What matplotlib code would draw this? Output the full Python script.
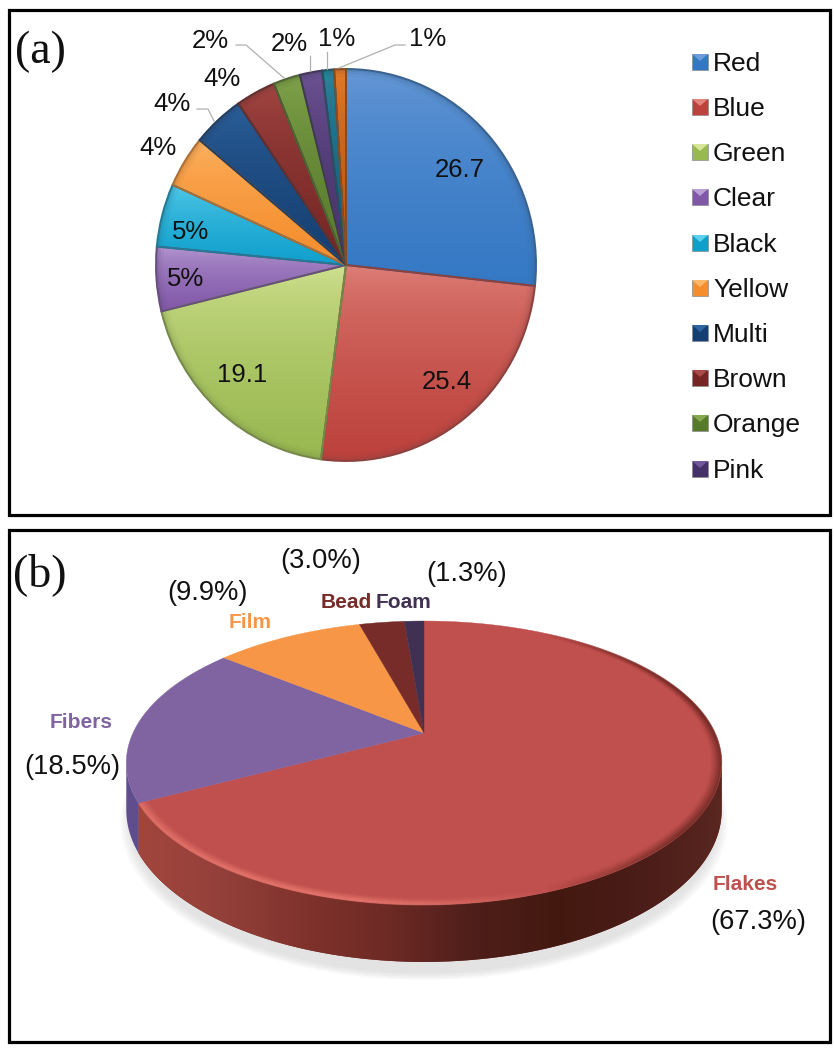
import numpy as np
import matplotlib
matplotlib.use("Agg")
import matplotlib.pyplot as plt
from matplotlib.collections import LineCollection
from matplotlib.colors import LinearSegmentedColormap, to_rgb
from matplotlib.patches import PathPatch, Polygon, Rectangle, Wedge

W, H = 834, 1050

# panel (a)
color_values = [26.7, 25.4, 19.1, 5.3, 5.2, 4.3, 4.4, 3.4, 2.3, 1.9, 1.0, 1.0]
color_names = ["Red", "Blue", "Green", "Clear", "Black", "Yellow", "Multi", "Brown", "Orange", "Pink"]
color_tops = ["#6b9bd8", "#e0847c", "#d6e596", "#bba0d6", "#5fd0ee", "#fdb769",
              "#2f649f", "#a84a47", "#86a84f", "#72589a", "#2d8aa5", "#e87f2c"]
color_bottoms = ["#3478c4", "#bd413c", "#98b850", "#8158a8", "#10a0cc", "#f58d2c",
                 "#153f72", "#752624", "#567a2c", "#453168", "#155c74", "#b85410"]
color_labels = ["26.7", "25.4", "19.1", "5%", "5%", "4%", "4%", "4%", "2%", "2%", "1%", "1%"]
color_label_xy = [(460, 170), (447, 382), (242, 375), (186, 279), (191, 232), (158, 148),
                  (172, 104), (222, 79), (210, 41), (289, 44), (337, 39), (428, 39)]
leader_lines = [
    [(197, 109), (208, 109), (214, 121)],
    [(236, 45), (246, 45), (284, 78)],
    [(310, 56), (310, 71)],
    [(327, 52), (327, 69)],
    [(405, 45), (395, 45), (339, 68)],
]
legend_y = [62, 107, 152, 197, 243, 288, 333, 378, 423, 469]

# panel (b)
shape_values = [67.3, 18.5, 9.9, 3.0, 1.3]
shape_names = ["Flakes", "Fibers", "Film", "Bead", "Foam"]
shape_colors = ["#c0504d", "#8064a2", "#f79646", "#772c2a", "#403152"]
shape_name_xy = [(745, 885), (81, 722), (250, 623), (346, 602), (404, 602)]
shape_pcts = ["(67.3%)", "(18.5%)", "(9.9%)", "(3.0%)", "(1.3%)"]
shape_pct_xy = [(758, 922), (72, 767), (208, 593), (321, 561), (467, 574)]

SANS = "Liberation Sans"
SERIF = "Liberation Serif"

# perspective disc of panel (b), in pixels
CX, CY = 424, 733
BX, AY, K, DEPTH = 291, 135.6, 0.211, 45


def disc_xy(theta_deg, scale=1.0, drop=0.0):
    t = np.radians(theta_deg)
    u, v = scale * np.cos(t), scale * np.sin(t)
    w = 1 + K * v
    return CX + BX * u / w, CY - AY * v / w + drop * DEPTH / w


def gradient_cmap(top, bottom):
    return LinearSegmentedColormap.from_list("g", [to_rgb(top), to_rgb(bottom)])


fig = plt.figure(figsize=(W / 100, H / 100), dpi=100)
canvas = fig.add_axes([0, 0, 1, 1])
canvas.set_xlim(0, W)
canvas.set_ylim(H, 0)
canvas.axis("off")

# frames
canvas.add_patch(Rectangle((9, 10), 821, 505, fc="none", ec="black", lw=2.3))
canvas.add_patch(Rectangle((9, 530), 821, 512, fc="none", ec="black", lw=2.3))

# (a) pie, slightly taller than wide like the picture
pie_cx, pie_cy, pie_rx, pie_ry = 346, 265, 190, 196
pie_ax = fig.add_axes([(pie_cx - pie_rx - 3) / W, 1 - (pie_cy + pie_ry + 3) / H,
                       (2 * pie_rx + 6) / W, (2 * pie_ry + 6) / H])
wedges, _ = pie_ax.pie(color_values, startangle=90, counterclock=False, colors=color_bottoms, radius=1.0)
pie_ax.set_aspect("auto")
grad = np.linspace(0, 1, 200).reshape(-1, 1)
for w, top, bottom in zip(wedges, color_tops, color_bottoms):
    verts = w.get_patch_transform().transform(w.get_path().vertices)
    x0, x1 = verts[:, 0].min(), verts[:, 0].max()
    y0, y1 = verts[:, 1].min(), verts[:, 1].max()
    # the colour settles quickly, the light part is only at the top of the slice
    im = pie_ax.imshow(grad ** 0.55, extent=(x0, x1, y0, y1), origin="upper", aspect="auto",
                       cmap=gradient_cmap(top, bottom), zorder=2)
    im.set_clip_path(w)
    edge = np.array(to_rgb(bottom)) * 0.6 + 0.1
    # darker band along the rim of each slice
    for width, alpha in [(0.012, 0.22), (0.024, 0.14), (0.04, 0.08)]:
        ring = Wedge(w.center, w.r, w.theta1, w.theta2, width=width, fc=edge, ec="none", alpha=alpha, zorder=3)
        pie_ax.add_patch(ring)
    pie_ax.add_patch(PathPatch(w.get_path(), transform=w.get_patch_transform() + pie_ax.transData,
                               fc="none", ec=edge, lw=1.4, zorder=4))
pie_ax.set_xlim(-1 - 3 / pie_rx, 1 + 3 / pie_rx)
pie_ax.set_ylim(-1 - 3 / pie_ry, 1 + 3 / pie_ry)
pie_ax.patch.set_alpha(0)

label_ax = fig.add_axes([0, 0, 1, 1], sharex=canvas, sharey=canvas)
label_ax.axis("off")
label_ax.patch.set_alpha(0)

for pts in leader_lines:
    xs, ys = zip(*pts)
    label_ax.plot(xs, ys, color="#b0b0b0", lw=0.9)
for s, (x, y) in zip(color_labels, color_label_xy):
    label_ax.text(x, y, s, family=SANS, fontsize=18.5, color="#111111", ha="center", va="center")

label_ax.text(40, 52, "(a)", family=SERIF, fontsize=33, ha="center", va="center", color="#111111")
label_ax.text(40, 575, "(b)", family=SERIF, fontsize=33, ha="center", va="center", color="#111111")

# legend
for name, y, top, bottom in zip(color_names, legend_y, color_tops, color_bottoms):
    label_ax.add_patch(Rectangle((692, y - 8), 16, 16, fc=bottom, ec="#8c8c8c", lw=0.5))
    label_ax.add_patch(Polygon([(692, y - 8), (708, y - 8), (700, y - 1)], fc=top, ec="none"))
    label_ax.text(713, y + 2, name, family=SANS, fontsize=19, color="#111111", ha="left", va="center")

# (b) soft shadow below the disc
for i in range(8):
    s = 1.02 - i * 0.005
    sx, sy = disc_xy(np.linspace(0, 360, 241), scale=1.0, drop=1.25)
    sx = CX + (sx - CX) * s
    sy = 770 + (sy - 770) * s
    canvas.add_patch(Polygon(np.c_[sx, sy], fc="#909090", ec="none", alpha=0.03, zorder=1))

# side wall, first the whole front then the purple piece on the left
ends = 90 - np.cumsum(shape_values) * 3.6
flakes_end = ends[0]

side_t = np.linspace(-12, flakes_end, 200)
tx, ty = disc_xy(side_t)
bx, by = disc_xy(side_t, drop=1.0)
side = Polygon(np.r_[np.c_[tx, ty], np.c_[bx, by][::-1]], fc="#7a2f2a", ec="none", zorder=2)
canvas.add_patch(side)
side_cmap = LinearSegmentedColormap.from_list(
    "side", ["#a2463d", "#94403a", "#80322c", "#6e2a25", "#4f1f1a", "#43190f", "#4a1d18", "#5a2620"])
im = canvas.imshow(np.linspace(0, 1, 300).reshape(1, -1), extent=(135, 725, 965, 760),
                   aspect="auto", cmap=side_cmap, zorder=3)
im.set_clip_path(side)

fib_t = np.linspace(flakes_end, -168, 40)
tx, ty = disc_xy(fib_t)
bx, by = disc_xy(fib_t, drop=1.0)
canvas.add_patch(Polygon(np.r_[np.c_[tx, ty], np.c_[bx, by][::-1]], fc="#5f4d8e", ec="none", zorder=3))

# top face, slices clockwise from 12 o'clock
start = 90.0
for val, col in zip(shape_values, shape_colors):
    stop = start - val * 3.6
    t = np.linspace(start, stop, max(int(val * 6), 8))
    x, y = disc_xy(t)
    canvas.add_patch(Polygon(np.r_[[[CX, CY]], np.c_[x, y]], fc=col, ec=col, lw=0.3, zorder=4))
    start = stop

# bevel along the rim: light in front, dark towards the right
rim_t = np.linspace(60, -152, 300)
mid_t = (rim_t[:-1] + rim_t[1:]) / 2
for i in range(10):
    scale = 0.998 - i * 0.0035
    alpha = 0.45 * (1 - i / 10) ** 1.5
    x, y = disc_xy(rim_t, scale=scale)
    segs = np.stack([np.c_[x[:-1], y[:-1]], np.c_[x[1:], y[1:]]], axis=1)
    cols = np.zeros((len(segs), 4))
    dark = mid_t > -70
    cols[dark, :3] = to_rgb("#5a1f1a")
    cols[~dark, :3] = to_rgb("#f07f75")
    fade = np.where(dark, np.clip((60 - mid_t) / 50, 0, 1) * np.clip((mid_t + 70) / 30, 0, 1),
                    np.clip((-70 - mid_t) / 30, 0, 1))
    cols[:, 3] = alpha * fade
    canvas.add_collection(LineCollection(segs, colors=cols, linewidths=1.6, zorder=5))

# (b) labels
for s, (x, y), col in zip(shape_names, shape_name_xy, shape_colors):
    label_ax.text(x, y, s, family=SANS, fontsize=15, fontweight="bold", color=col, ha="center", va="center")
for s, (x, y) in zip(shape_pcts, shape_pct_xy):
    label_ax.text(x, y, s, family=SANS, fontsize=19.7, color="#111111", ha="center", va="center")

canvas.set_xlim(0, W)
canvas.set_ylim(H, 0)
fig.savefig("out.png", dpi=100)
